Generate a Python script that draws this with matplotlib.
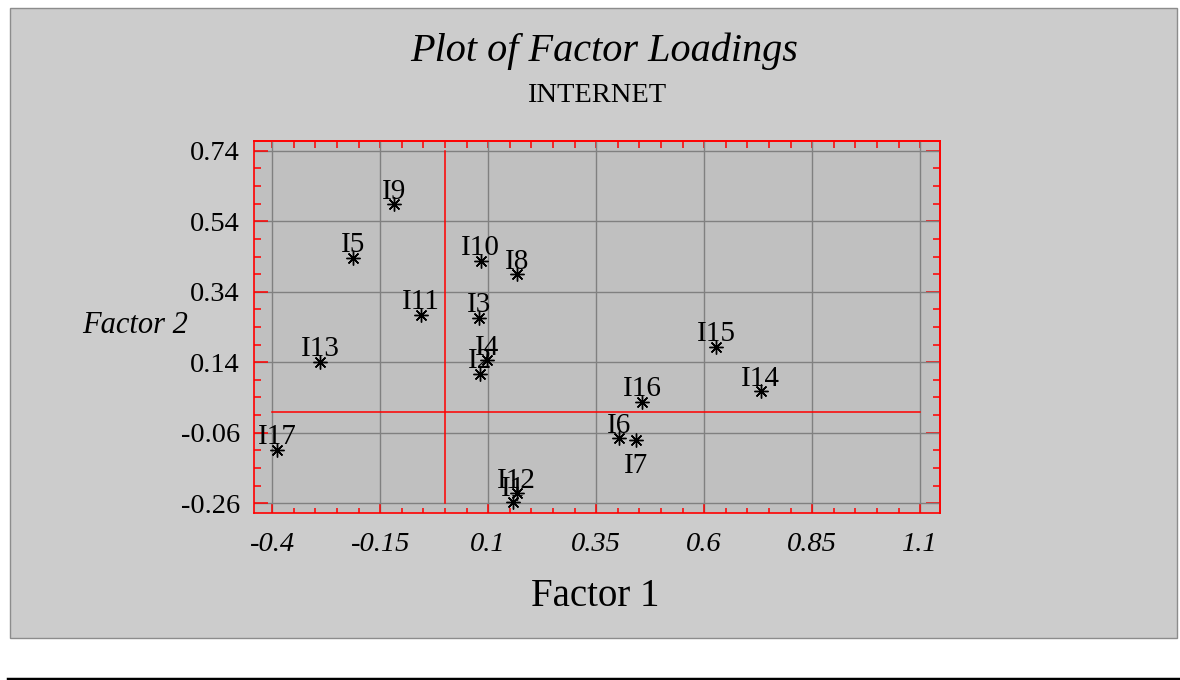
import matplotlib
matplotlib.use("Agg")
import matplotlib.pyplot as plt
from matplotlib.ticker import FixedLocator, MultipleLocator
from matplotlib.patches import Rectangle
from matplotlib.lines import Line2D

# ---- data ----
labels = ["I1", "I2", "I3", "I4", "I5", "I6", "I7", "I8", "I9", "I10",
          "I11", "I12", "I13", "I14", "I15", "I16", "I17"]
factor1 = [0.157, 0.081, 0.080, 0.097, -0.212, 0.403, 0.442, 0.166, -0.117, 0.083,
           -0.055, 0.166, -0.289, 0.731, 0.628, 0.456, -0.388]
factor2 = [-0.256, 0.108, 0.266, 0.146, 0.437, -0.076, -0.081, 0.390, 0.589, 0.428,
           0.274, -0.232, 0.141, 0.058, 0.184, 0.028, -0.109]
below_labels = ["I7"]
xticks = [-0.4, -0.15, 0.1, 0.35, 0.6, 0.85, 1.1]
yticks = [-0.26, -0.06, 0.14, 0.34, 0.54, 0.74]
xtick_labels = ["-0.4", "-0.15", "0.1", "0.35", "0.6", "0.85", "1.1"]
ytick_labels = ["-0.26", "-0.06", "0.14", "0.34", "0.54", "0.74"]
title = "Plot of Factor Loadings"
subtitle = "INTERNET"
xlabel = "Factor 1"
ylabel = "Factor 2"

W, H, DPI = 1180, 680, 100
plt.rcParams["font.family"] = ["Liberation Serif", "DejaVu Serif"]
fig = plt.figure(figsize=(W / DPI, H / DPI), dpi=DPI)
fig.patch.set_facecolor("white")

# outer gray panel
fig.patches.append(Rectangle((10 / W, 1 - 638 / H), (1177 - 10) / W, (638 - 8) / H,
                             transform=fig.transFigure, facecolor="#cccccc",
                             edgecolor="#8c8c8c", linewidth=1.0, zorder=-10))
# black rule at bottom
fig.lines.append(Line2D([8 / W, 1.0], [1 - 679 / H, 1 - 679 / H], transform=fig.transFigure,
                        color="black", linewidth=2.5))

left, right, top, bottom = 254, 940, 141, 513
ax = fig.add_axes([left / W, 1 - bottom / H, (right - left) / W, (bottom - top) / H])
ax.set_facecolor("#c0c0c0")

ax.set_xlim(-0.442, 1.146)
ax.set_ylim(-0.288, 0.768)

ax.xaxis.set_major_locator(FixedLocator(xticks))
ax.yaxis.set_major_locator(FixedLocator(yticks))
ax.set_xticklabels(xtick_labels, fontstyle="italic", fontsize=20.5)
ax.set_yticklabels(ytick_labels, fontsize=20.5)
ax.xaxis.set_minor_locator(MultipleLocator(0.05))
ax.yaxis.set_minor_locator(MultipleLocator(0.05, offset=0.04))

ax.grid(True, which="major", color="#808080", linewidth=1.0, zorder=0)
ax.set_axisbelow(True)

for sp in ax.spines.values():
    sp.set_color("red")
    sp.set_linewidth(1.2)

ax.tick_params(axis="x", which="major", direction="in", length=7, width=1.1, color="red",
               pad=14, top=False)
ax.tick_params(axis="x", which="minor", direction="in", length=3.5, width=1.1, color="red",
               top=False)
ax.tick_params(axis="y", which="major", direction="in", length=10, width=1.1, color="red",
               pad=10, right=False)
ax.tick_params(axis="y", which="minor", direction="in", length=5, width=1.1, color="red",
               right=False)

sx = ax.secondary_xaxis("top")
sx.xaxis.set_major_locator(FixedLocator(xticks))
sx.xaxis.set_minor_locator(MultipleLocator(0.05))
sx.tick_params(which="both", direction="in", length=5, width=1.1, color="red", labeltop=False)
sx.spines["top"].set_color("red")
sx.spines["top"].set_linewidth(1.2)

sy = ax.secondary_yaxis("right")
sy.yaxis.set_major_locator(FixedLocator(yticks))
sy.yaxis.set_minor_locator(MultipleLocator(0.05, offset=0.04))
sy.tick_params(which="major", direction="in", length=10, width=1.1, color="red", labelright=False)
sy.tick_params(which="minor", direction="in", length=5, width=1.1, color="red", labelright=False)
sy.spines["right"].set_color("red")
sy.spines["right"].set_linewidth(1.2)

# zero reference lines
ax.plot([0, 0], [yticks[0], yticks[-1]], color="red", linewidth=1.1, zorder=1)
ax.plot([xticks[0], xticks[-1]], [0, 0], color="red", linewidth=1.1, zorder=1)

# points
ax.plot(factor1, factor2, linestyle="none", marker=(8, 2, 0), markersize=10,
        markeredgewidth=1.0, color="black", zorder=3)
for lab, x, y in zip(labels, factor1, factor2):
    if lab in below_labels:
        ax.annotate(lab, (x, y), xytext=(0, -9), textcoords="offset points",
                    ha="center", va="top", fontsize=21, zorder=4)
    else:
        ax.annotate(lab, (x, y), xytext=(0, 4), textcoords="offset points",
                    ha="center", va="baseline", fontsize=21, zorder=4)

fig.text(604 / W, 1 - 51 / H, title, ha="center", va="center", fontsize=29, fontstyle="italic")
fig.text(597 / W, 1 - 95 / H, subtitle, ha="center", va="center", fontsize=20.5)
fig.text(595 / W, 1 - 597 / H, xlabel, ha="center", va="center", fontsize=28)
fig.text(82 / W, 1 - 325 / H, ylabel, ha="left", va="center", fontsize=22, fontstyle="italic")

fig.savefig("out.png", dpi=DPI)
